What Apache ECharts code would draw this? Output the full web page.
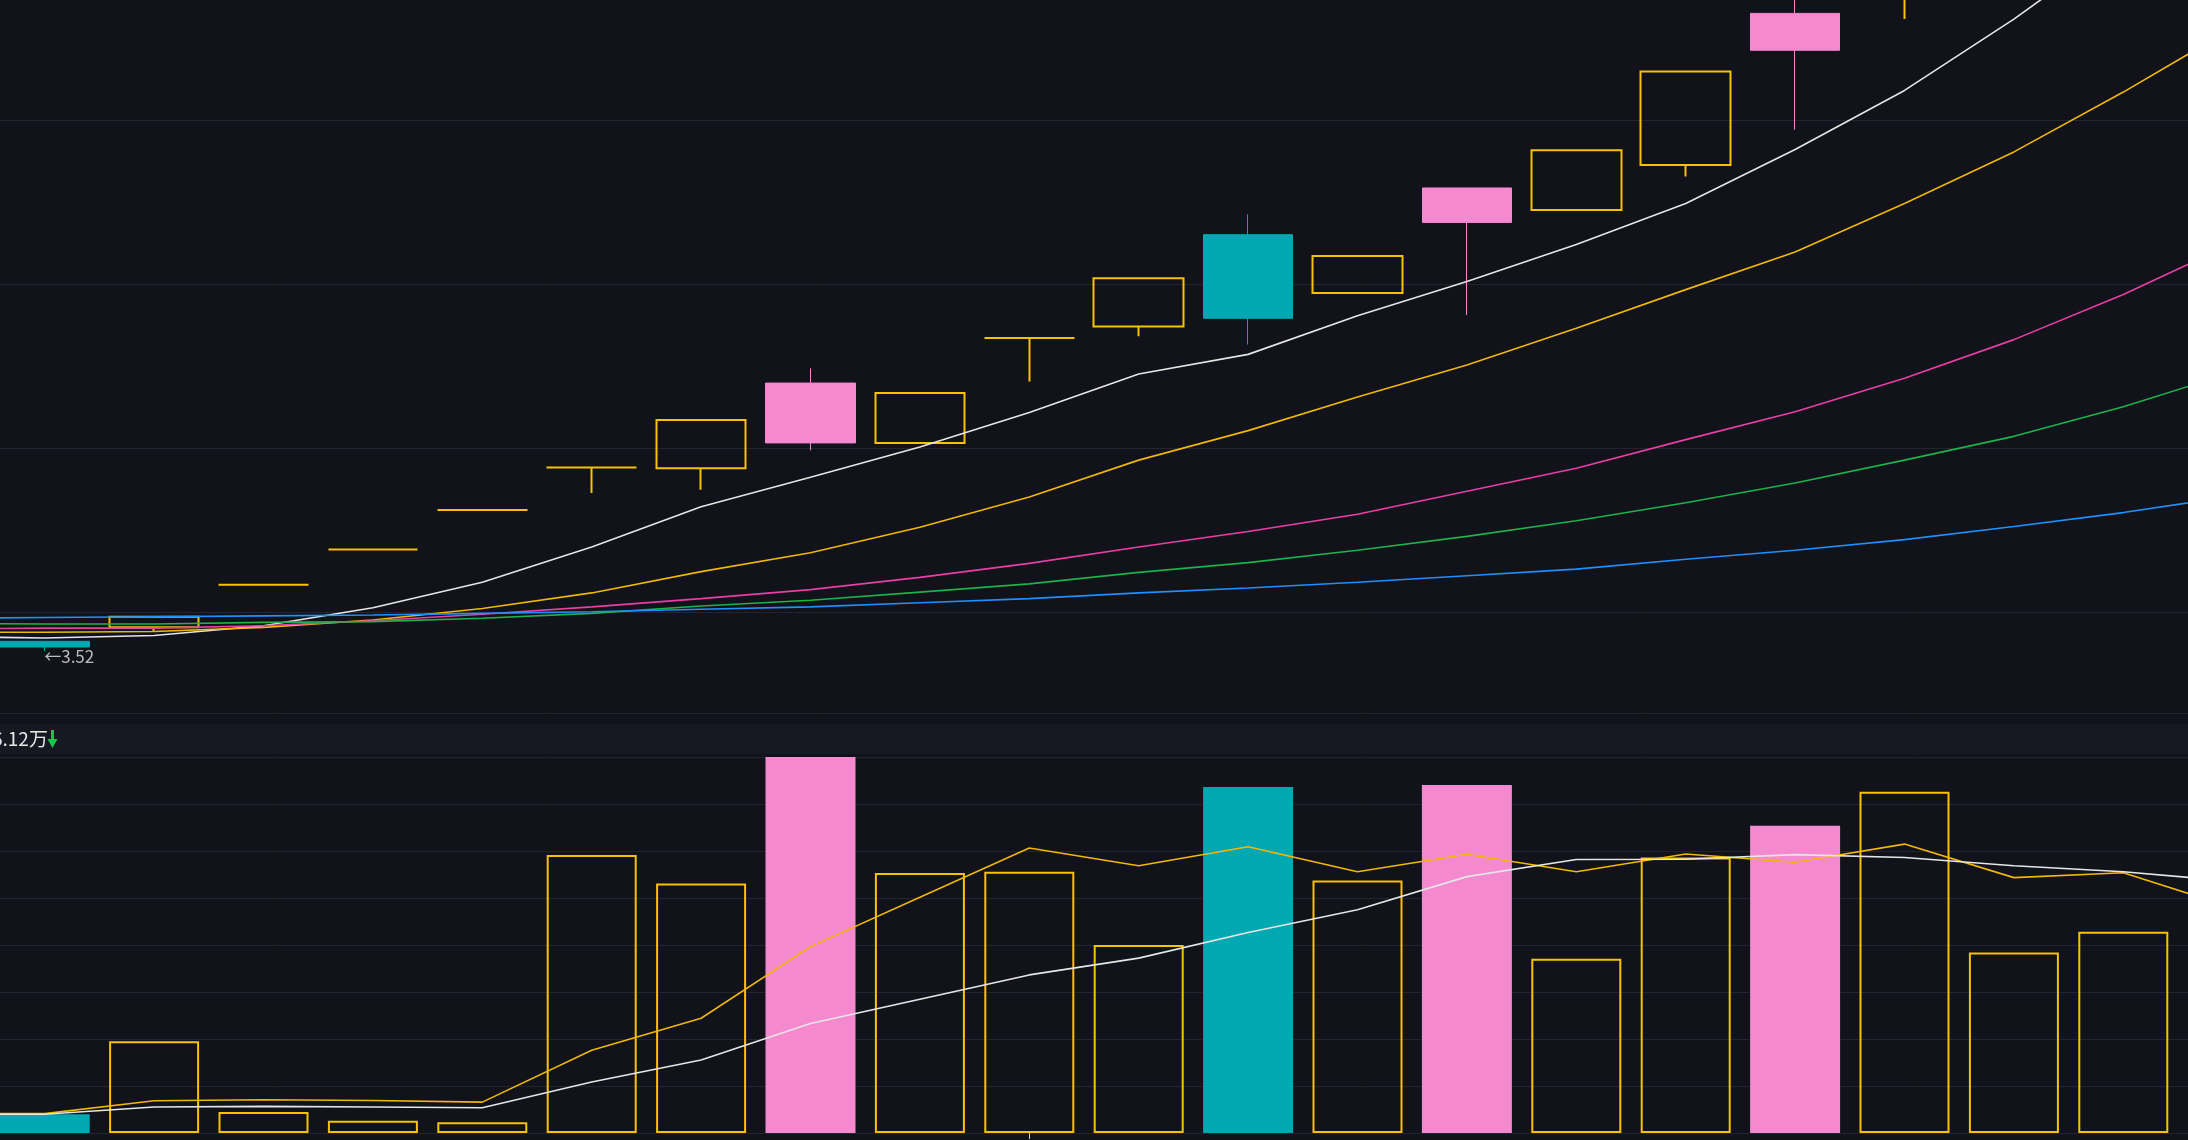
<!DOCTYPE html>
<html>
<head>
<meta charset="utf-8">
<script src="https://cdn.jsdelivr.net/npm/echarts@6/dist/echarts.min.js"></script>
<style>
html,body{margin:0;padding:0;background:#11121a;overflow:hidden;}
#chart{width:2188px;height:1140px;}
</style>
</head>
<body>
<div id="chart"></div>
<script>
// ---- data (index 0 and 21 are the off-screen neighbours whose MA segments reach the edges) ----
const categories = ['K0','K1','K2','K3','K4','K5','K6','K7','K8','K9','K10','K11','K12','K13','K14','K15','K16','K17','K18','K19','K20','K21'];
const opens  = [null, 3.64, 3.81, 4.33, 4.76, 5.24, 5.76, 5.75, 6.79, 6.06, 7.34, 7.48, 8.60, 7.89, 9.17, 8.90, 9.45, 11.30, 11.55, 12.60, 13.60, null];
const closes = [null, 3.57, 3.94, 4.33, 4.76, 5.24, 5.76, 6.34, 6.06, 6.67, 7.34, 8.07, 7.58, 8.34, 8.75, 9.63, 10.59, 10.85, 11.94, 13.13, 14.44, null];
const lows   = [null, 3.52, 3.76, 4.33, 4.76, 5.24, 5.45, 5.49, 5.97, 6.06, 6.81, 7.36, 7.26, 7.89, 7.62, 8.90, 9.31, 9.88, 11.23, 12.45, 13.40, null];
const highs  = [null, 3.64, 3.94, 4.33, 4.76, 5.24, 5.76, 6.35, 6.97, 6.68, 7.34, 8.08, 8.85, 8.35, 9.17, 9.64, 10.59, 11.65, 11.94, 13.13, 14.44, null];
const kinds  = [null, 'teal','up','up','up','up','up','up','pink','up','up','up','teal','up','pink','up','up','pink','up','up','up', null];

const ma5  = [3.70, 3.68, 3.71, 3.83, 4.05, 4.36, 4.79, 5.28, 5.64, 6.01, 6.43, 6.90, 7.14, 7.61, 8.03, 8.48, 8.98, 9.64, 10.36, 11.23, 12.19, 13.20];
const ma10 = [3.75, 3.75, 3.76, 3.81, 3.90, 4.04, 4.23, 4.49, 4.72, 5.03, 5.40, 5.85, 6.21, 6.62, 7.01, 7.46, 7.93, 8.39, 8.98, 9.61, 10.34, 11.12];
const ma20 = [3.79, 3.80, 3.80, 3.83, 3.89, 3.97, 4.06, 4.16, 4.27, 4.42, 4.59, 4.79, 4.98, 5.19, 5.47, 5.75, 6.10, 6.44, 6.85, 7.32, 7.87, 8.49];
const ma30 = [3.86, 3.85, 3.85, 3.87, 3.88, 3.92, 3.98, 4.07, 4.14, 4.24, 4.34, 4.48, 4.60, 4.75, 4.92, 5.11, 5.33, 5.57, 5.85, 6.14, 6.50, 6.92];
const ma60 = [3.92, 3.93, 3.94, 3.95, 3.96, 3.98, 4.00, 4.03, 4.06, 4.11, 4.16, 4.23, 4.29, 4.36, 4.44, 4.52, 4.64, 4.75, 4.88, 5.04, 5.21, 5.41];

// volume in 万
const volumes = [null, 0.57, 2.79, 0.64, 0.37, 0.33, 8.46, 7.59, 11.44, 7.91, 7.95, 5.72, 10.53, 7.68, 10.59, 5.30, 8.38, 9.35, 10.38, 5.49, 6.12, null];
const volMa5  = [0.59, 0.59, 0.98, 1.01, 0.99, 0.94, 2.52, 3.49, 5.67, 7.17, 8.67, 8.13, 8.71, 7.95, 8.48, 7.95, 8.49, 8.24, 8.79, 7.77, 7.92, 6.86];
const volMa10 = [0.57, 0.57, 0.79, 0.81, 0.79, 0.77, 1.55, 2.22, 3.33, 4.07, 4.81, 5.32, 6.10, 6.79, 7.80, 8.32, 8.33, 8.47, 8.38, 8.13, 7.95, 7.66];

const priceMin = 2.765, priceMax = 12;
const volMax = 11.44, volStep = 1.43;
const tickIndex = 10;

// ---- styles ----
const BG = '#11121a';
const GRID = '#23242f';
const YEL = '#f9c200';
const PINK = '#f589d0';
const TEAL = '#00a9b2';

function candleStyle(k) {
  if (k === 'up') return { color: 'transparent', color0: 'transparent', borderColor: YEL, borderColor0: YEL, borderWidth: 2 };
  const c = k === 'pink' ? PINK : TEAL;
  return { color: c, color0: c, borderColor: c, borderColor0: c, borderWidth: 1 };
}
function volStyle(k) {
  if (k === 'up') return { color: 'transparent', borderColor: YEL, borderWidth: 2 };
  return { color: k === 'pink' ? PINK : TEAL };
}

const candleData = categories.map((_, i) => opens[i] == null ? '-' : ({
  value: [opens[i], closes[i], lows[i], highs[i]],
  itemStyle: candleStyle(kinds[i])
}));
const volData = categories.map((_, i) => volumes[i] == null ? '-' : ({
  value: volumes[i],
  itemStyle: volStyle(kinds[i])
}));

let lowIdx = 1;
lows.forEach((v, i) => { if (v != null && v < lows[lowIdx]) lowIdx = i; });

function line(name, data, color, xi, yi) {
  return {
    name, type: 'line', data, xAxisIndex: xi, yAxisIndex: yi,
    symbol: 'none', showSymbol: false, smooth: false, z: 4,
    lineStyle: { color, width: 1.6 }, silent: true
  };
}

const chart = echarts.init(document.getElementById('chart'), null, { renderer: 'canvas' });
chart.setOption({
  animation: false,
  backgroundColor: BG,
  grid: [
    { left: -119.4, right: -99.4, top: -44, bottom: 427, outerBoundsMode: 'none', containLabel: false },
    { left: -119.4, right: -99.4, top: 757, bottom: 7, outerBoundsMode: 'none', containLabel: false }
  ],
  xAxis: [
    { type: 'category', gridIndex: 0, data: categories, boundaryGap: true,
      axisLine: { show: false }, axisTick: { show: false }, axisLabel: { show: false }, splitLine: { show: false } },
    { type: 'category', gridIndex: 1, data: categories, boundaryGap: true,
      axisLine: { show: true, lineStyle: { color: GRID, width: 1 } },
      axisTick: { show: true, alignWithLabel: true, length: 6, interval: (i) => i === tickIndex, lineStyle: { color: '#cfcfcf', width: 1 } },
      axisLabel: { show: false }, splitLine: { show: false } }
  ],
  yAxis: [
    { type: 'value', gridIndex: 0, min: priceMin, max: priceMax, splitNumber: 5, minInterval: 2, maxInterval: 2,
      axisLine: { show: false }, axisTick: { show: false }, axisLabel: { show: false },
      splitLine: { show: true, lineStyle: { color: GRID, width: 1 } } },
    { type: 'value', gridIndex: 1, min: 0, max: volMax, interval: volStep,
      axisLine: { show: false }, axisTick: { show: false }, axisLabel: { show: false },
      splitLine: { show: true, lineStyle: { color: GRID, width: 1 } } }
  ],
  graphic: [
    { type: 'rect', shape: { x: 0, y: 724, width: 2188, height: 30 }, style: { fill: '#171922' }, z: -1, silent: true },
    { type: 'text', x: -8, y: 739, z: 10, silent: true,
      style: {
        text: volumes[20].toFixed(2) + '万',
        verticalAlign: 'middle', align: 'left',
        fontSize: 19, fontFamily: 'Noto Sans CJK SC', fill: '#e8e8e8'
      } },
    { type: 'polygon', z: 10, silent: true,
      shape: { points: [[51, 730], [54, 730], [54, 739], [57.5, 739], [52.5, 748], [47.5, 739], [51, 739]] },
      style: { fill: '#1ec24c' } }
  ],
  series: [
    {
      name: 'K', type: 'candlestick', xAxisIndex: 0, yAxisIndex: 0, data: candleData,
      barWidth: 90, z: 2, silent: true,
      markPoint: {
        symbol: 'circle', symbolSize: 1, silent: true,
        itemStyle: { color: 'transparent' },
        data: [{ coord: [categories[lowIdx], lows[lowIdx]], value: lows[lowIdx] }],
        label: {
          show: true, position: [0, 6], align: 'left', verticalAlign: 'middle',
          formatter: (p) => '←' + Number(p.value).toFixed(2),
          color: '#bdbdbd', fontSize: 17, fontFamily: 'Noto Sans CJK SC'
        }
      }
    },
    line('MA5', ma5, '#e6e6e6', 0, 0),
    line('MA10', ma10, '#f0b800', 0, 0),
    line('MA20', ma20, '#e83fa4', 0, 0),
    line('MA30', ma30, '#1cb34c', 0, 0),
    line('MA60', ma60, '#1e90ff', 0, 0),
    { name: 'VOL', type: 'bar', xAxisIndex: 1, yAxisIndex: 1, data: volData, barWidth: 90, z: 2, silent: true },
    line('VMA5', volMa5, '#f0b800', 1, 1),
    line('VMA10', volMa10, '#e6e6e6', 1, 1)
  ]
});
</script>
</body>
</html>
